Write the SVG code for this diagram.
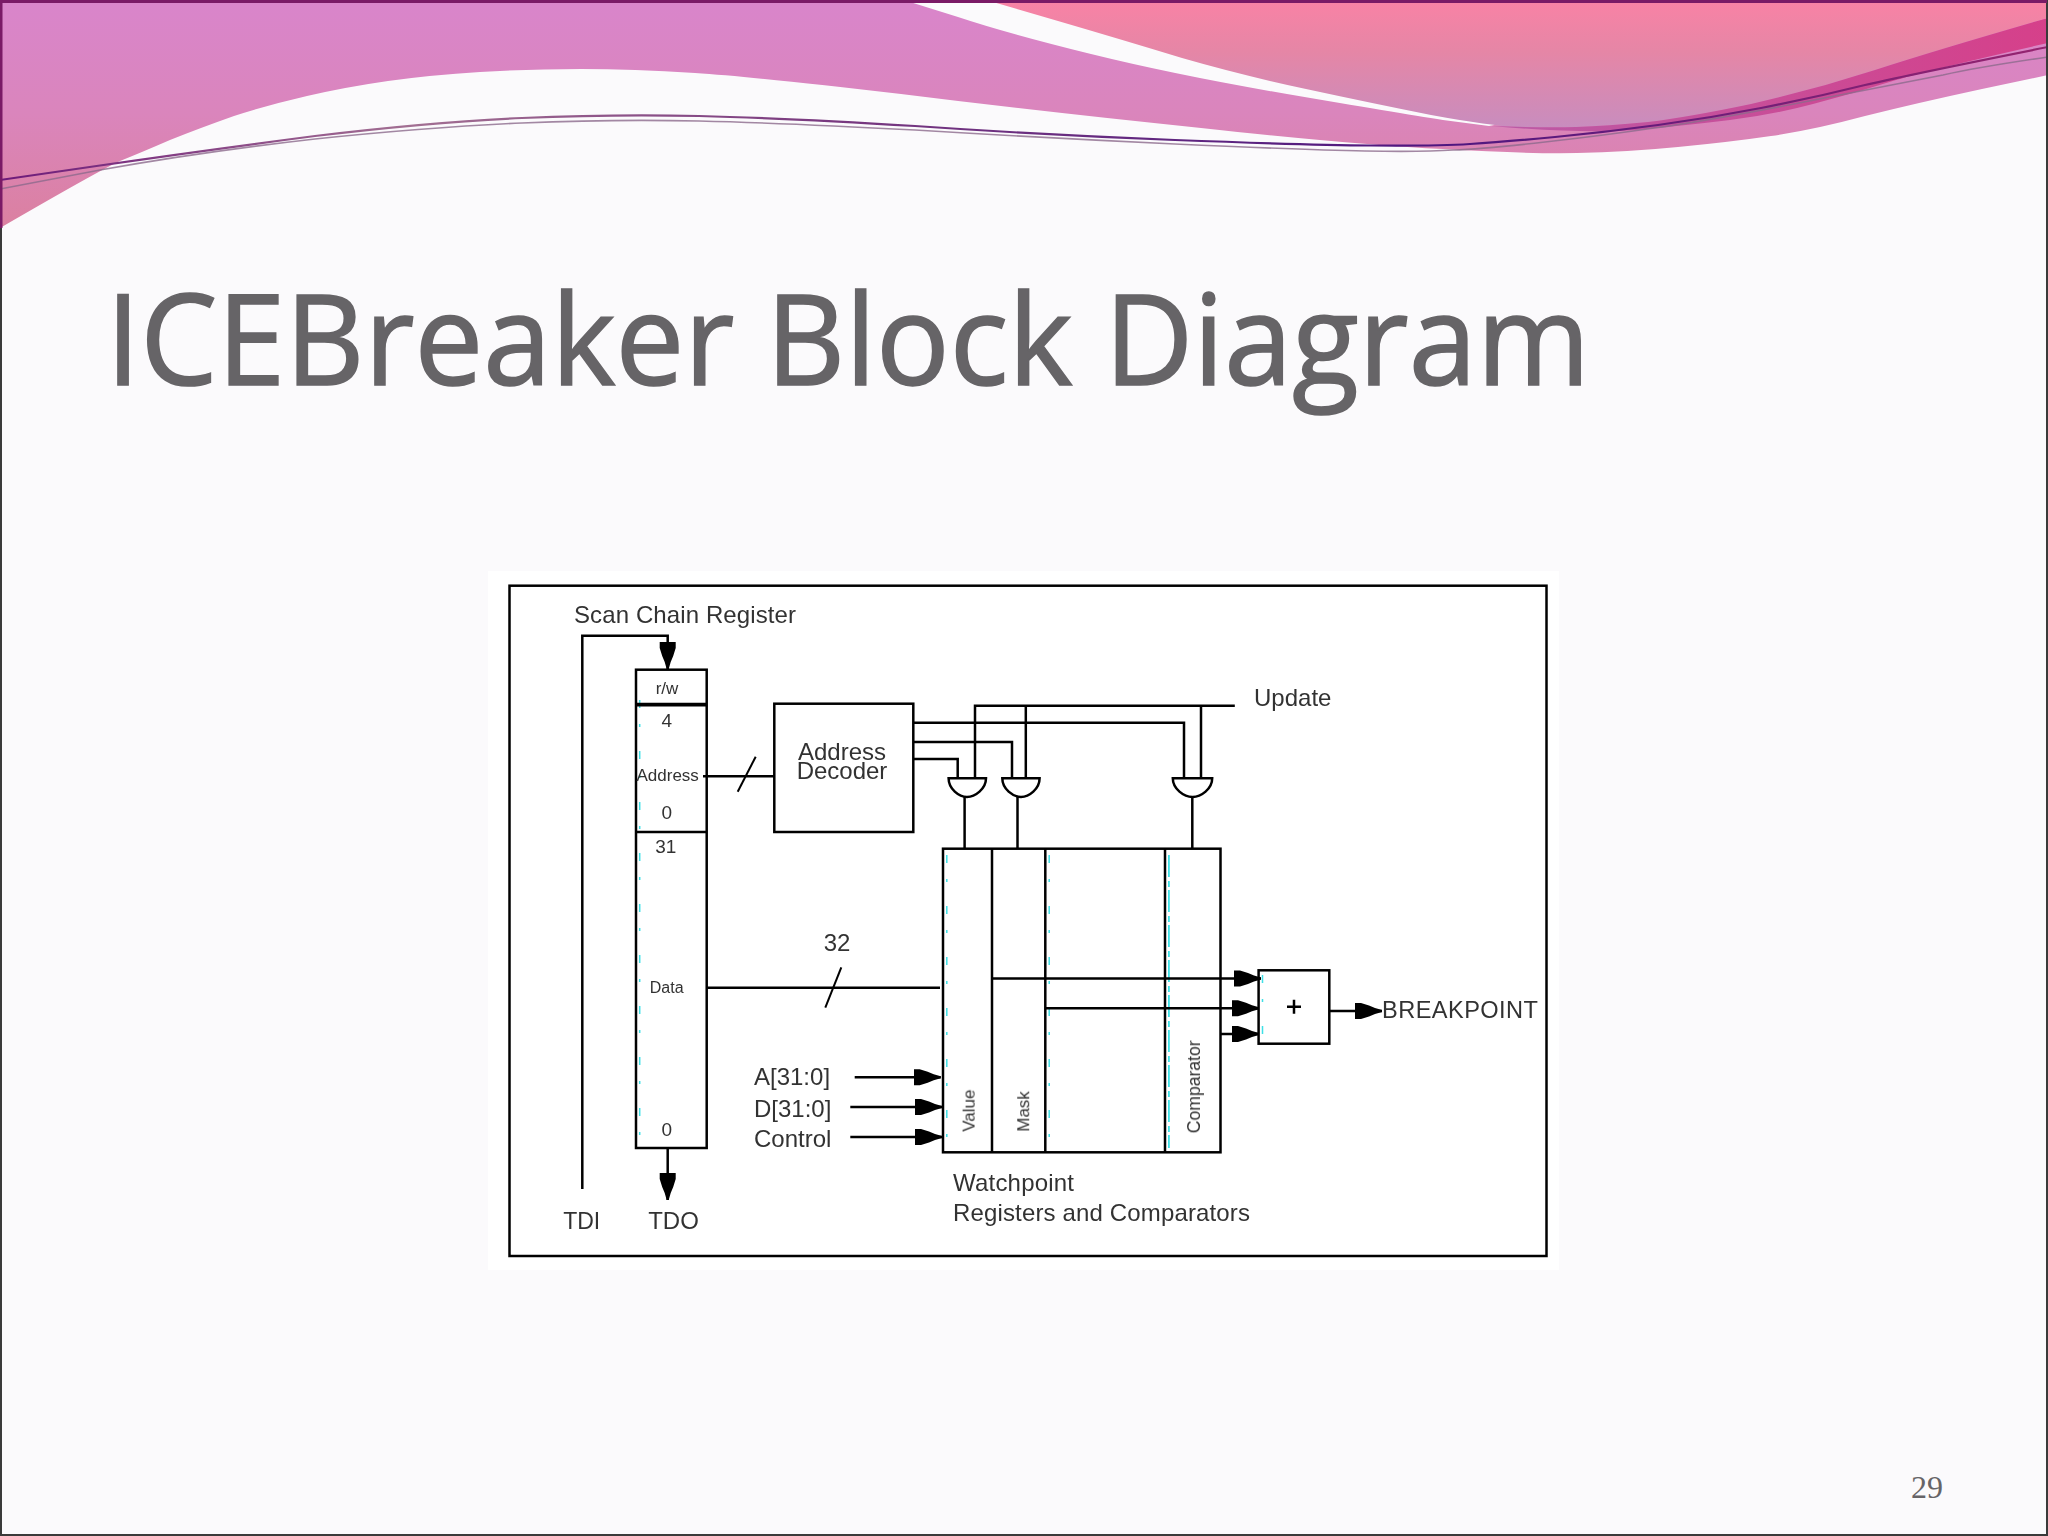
<svg xmlns="http://www.w3.org/2000/svg" width="2048" height="1536" viewBox="0 0 2048 1536">
<defs>
<linearGradient id="gPurple" gradientUnits="userSpaceOnUse" x1="0" y1="0" x2="0" y2="228"><stop offset="0" stop-color="#d985cb"/><stop offset="0.5" stop-color="#da85bc"/><stop offset="1" stop-color="#db80a0"/></linearGradient>
<linearGradient id="gPink" gradientUnits="userSpaceOnUse" x1="0" y1="0" x2="0" y2="130"><stop offset="0" stop-color="#f982a5"/><stop offset="0.4" stop-color="#e586a6"/><stop offset="1" stop-color="#c78dbf"/></linearGradient>
<linearGradient id="gStrip" gradientUnits="userSpaceOnUse" x1="1491" y1="0" x2="2048" y2="0"><stop offset="0" stop-color="#bb5aa6"/><stop offset="1" stop-color="#d6408a"/></linearGradient>
<linearGradient id="gLine" gradientUnits="userSpaceOnUse" x1="0" y1="0" x2="2048" y2="0"><stop offset="0" stop-color="#6d1a7a"/><stop offset="0.2" stop-color="#a26f92"/><stop offset="0.4" stop-color="#7a3a80"/><stop offset="0.7" stop-color="#4d1780"/><stop offset="1" stop-color="#96246f"/></linearGradient>
<filter id="soft" x="-5%" y="-20%" width="110%" height="140%"><feGaussianBlur stdDeviation="0.55"/></filter>
<marker id="head" markerUnits="userSpaceOnUse" markerWidth="28" markerHeight="18" refX="27" refY="8" orient="auto" viewBox="0 0 28 16"><path d="M0 0L6 0L14 2.5L20 5L27 7V9L20 11L14 13.5L6 16L0 16Z" fill="#000"/></marker>
<style>
.ln{fill:none;stroke:#000;stroke-width:2.5}
.box{fill:none;stroke:#000;stroke-width:2.5}
.t{font-family:"Liberation Sans",Arial,sans-serif;fill:#333;filter:url(#soft)}
.s24{font-size:24px}.s19{font-size:19px}.s17{font-size:17px}
.mid{text-anchor:middle}
.cy{fill:none;stroke:#3fe0e6;stroke-width:1.5;stroke-dasharray:8 16 3 24}
.cy2{fill:none;stroke:#3fe0e6;stroke-width:1.8;stroke-dasharray:22 4 6 3}
</style>
</defs>
<rect width="2048" height="1536" fill="#fbfafc"/>
<g id="banner">
<path fill="url(#gPurple)" d="M0 2H910L958 17Q1006 33 1091 54Q1176 75 1287 94Q1398 113 1443 120L1489 126L2048 18V75L1982 89Q1917 103 1865 116Q1813 130 1771 136Q1730 142 1678 147Q1627 152 1577 153Q1528 154 1443 149Q1358 145 1201 128Q1045 112 901 94Q757 77 695 73Q633 69 581 69Q529 69 480 72Q431 75 388 81Q346 87 307 96Q268 105 234 116Q200 128 170 140Q140 153 120 161Q100 170 0 228Z"/>
<path fill="url(#gPink)" d="M993 2L1058 21Q1123 40 1182 58Q1241 75 1306 89Q1371 103 1431 115Q1491 126 1518 127Q1545 128 1576 127Q1607 126 1648 122Q1689 117 1751 104Q1813 90 1875 70Q1937 50 2048 18V2Z"/>
<path fill="url(#gStrip)" d="M1491 126Q1545 128 1576 127Q1607 126 1648 122Q1689 117 1751 104Q1813 90 1875 70Q1937 50 2048 18V43Q1937 68 1896 80Q1855 93 1813 104Q1772 115 1730 120Q1689 125 1636 130Q1582 134 1491 126Z"/>
<path fill="none" stroke="#8c6a8c" stroke-width="1.6" stroke-opacity="0.8" d="M0 189L100 170Q200 152 315 139Q431 127 522 123Q614 119 699 121Q784 123 915 130Q1045 138 1175 144Q1306 150 1365 151Q1424 152 1453 150Q1483 149 1545 142Q1607 135 1654 128Q1700 122 1804 102Q1908 82 1943 75Q1979 67 2048 57"/>
<path fill="none" stroke="url(#gLine)" stroke-width="2.2" d="M0 180L100 165.5Q200 151 315 136Q431 122 522 118Q614 114 699 116Q784 118 915 126Q1045 135 1175 140Q1306 145 1371 145.5Q1437 146 1470 144Q1503 142 1555 137Q1607 132 1658 125Q1710 118 1761 108Q1813 98 1865 85Q1917 73 2048 47"/>
<path fill="none" stroke="#3a3a3a" stroke-width="2" d="M1 228V1535H2047V0"/>
<path fill="none" stroke="#7a1a66" stroke-width="3" d="M1 228V1.5H2047"/>
</g>
<text id="title" x="106" y="385" font-family="'Open Sans','Noto Sans',sans-serif" font-size="126" fill="#666467" stroke="#666467" stroke-width="1.6" textLength="1484" lengthAdjust="spacingAndGlyphs">ICEBreaker Block Diagram</text>
<text id="page" x="1911" y="1498" font-family="'Liberation Serif',serif" font-size="32" fill="#666467">29</text>
<rect id="panel" x="488" y="571" width="1071" height="699" fill="#fff"/>
<rect id="frame" x="509.5" y="585.7" width="1037" height="670.3" class="box"/>
<g id="artifacts">
<path class="cy" d="M639.7 700V1145M946.8 855V1148M1049.2 855V1148M1262.5 975V1040"/>
<path class="cy2" d="M1168.9 855V1148"/>
</g>
<g id="connectors">
<path class="ln" d="M582.3 1189V635.7H667.7V669" marker-end="url(#head)"/>
<path class="ln" d="M667.7 1148V1200" marker-end="url(#head)"/>
<path class="ln" d="M703 776.3H774.3"/>
<path class="ln" style="stroke-width:2" d="M755.7 756.7L737.7 791.7"/>
<path class="ln" d="M706 987.7H940"/>
<path class="ln" style="stroke-width:2" d="M841.3 967.3L825.3 1007.7"/>
<path class="ln" d="M913 722.7H1184V778.3"/>
<path class="ln" d="M913 742H1012V778.3"/>
<path class="ln" d="M913 759H957.7V778.3"/>
<path class="ln" d="M975 778.3V705.7H1234.8"/>
<path class="ln" d="M1025.8 778.3V705.7"/>
<path class="ln" d="M1201 778.3V705.7"/>
<path class="ln" d="M964.6 797V848.7"/>
<path class="ln" d="M1017.5 797V848.7"/>
<path class="ln" d="M1192.3 797V848.7"/>
<path class="ln" d="M854.7 1077.3H940.7" marker-end="url(#head)"/>
<path class="ln" d="M850.3 1107H942" marker-end="url(#head)"/>
<path class="ln" d="M850.3 1137H942" marker-end="url(#head)"/>
<path class="ln" d="M992 978.5H1261" marker-end="url(#head)"/>
<path class="ln" d="M1045.3 1008.3H1259" marker-end="url(#head)"/>
<path class="ln" d="M1220.5 1034H1259" marker-end="url(#head)"/>
<path class="ln" d="M1329.3 1011H1382" marker-end="url(#head)"/>
</g>
<g id="scan-chain-register">
<rect x="636" y="669.7" width="70.7" height="478.3" class="box"/>
<path class="ln" style="stroke-width:3.8" d="M636 704.7H706.7"/>
<path class="ln" d="M636 832H706.7"/>
<text class="t s24" x="574" y="623.3" textLength="222">Scan Chain Register</text>
<text class="t s17 mid" x="667" y="694">r/w</text>
<text class="t s19 mid" x="666.7" y="726.7">4</text>
<text class="t s17" x="636.5" y="781">Address</text>
<text class="t s19 mid" x="666.7" y="819.3">0</text>
<text class="t s19 mid" x="665.7" y="853.3">31</text>
<text class="t mid" style="font-size:16px" x="666.7" y="992.7">Data</text>
<text class="t s19 mid" x="666.7" y="1135.7">0</text>
</g>
<g id="address-decoder">
<rect x="774.3" y="703.7" width="139" height="128.3" class="box"/>
<text class="t s24 mid" x="842" y="760">Address</text>
<text class="t s24 mid" x="842" y="779.3">Decoder</text>
</g>
<g id="gate-1"><path class="ln" d="M948.6 778.3H986C986 789 975 797 967 797C959 797 948.6 789 948.6 778.3Z"/></g>
<g id="gate-2"><path class="ln" d="M1002.3 778.3H1039.6C1039.6 789 1029 797 1021 797C1013 797 1002.3 789 1002.3 778.3Z"/></g>
<g id="gate-3"><path class="ln" d="M1172.8 778.3H1212.2C1212.2 789 1201 797 1192.5 797C1184 797 1172.8 789 1172.8 778.3Z"/></g>
<g id="watchpoint">
<rect x="943" y="848.7" width="277.5" height="303.6" class="box"/>
<path class="ln" d="M992 848.7V1152.3M1045.3 848.7V1152.3M1165 848.7V1152.3"/>
<text class="t s17" transform="translate(974.6 1131.7) rotate(-90)">Value</text>
<text class="t s17" transform="translate(1029.2 1131.7) rotate(-90)">Mask</text>
<text class="t" style="font-size:17.6px" transform="translate(1200 1133.3) rotate(-90)">Comparator</text>
<text class="t s24" x="953" y="1191" textLength="121">Watchpoint</text>
<text class="t s24" x="953" y="1221" textLength="297">Registers and Comparators</text>
</g>
<g id="or-box">
<rect x="1258.6" y="970.3" width="70.7" height="73.4" class="box"/>
<path class="ln" d="M1287 1006.7H1301M1294 999.7V1013.7"/>
</g>
<g id="labels">
<text class="t s24" x="1254" y="706">Update</text>
<text class="t" style="font-size:23.6px" x="1382" y="1018.3" textLength="156">BREAKPOINT</text>
<text class="t s24 mid" x="837" y="950.7">32</text>
<text class="t s24" x="754" y="1085">A[31:0]</text>
<text class="t s24" x="754" y="1116.7">D[31:0]</text>
<text class="t s24" x="754" y="1146.7">Control</text>
<text class="t mid" style="font-size:23px" x="581.7" y="1229.3">TDI</text>
<text class="t s24 mid" x="673.5" y="1229.3">TDO</text>
</g>
</svg>
